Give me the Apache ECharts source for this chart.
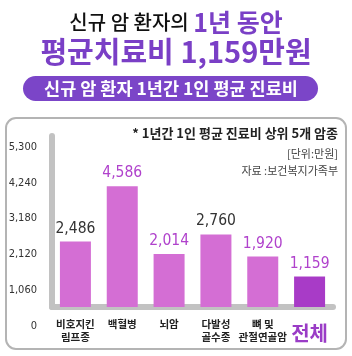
<!DOCTYPE html>
<html>
<head>
<meta charset="utf-8">
<script src="https://cdn.jsdelivr.net/npm/echarts@6/dist/echarts.min.js"></script>
<style>
  html, body { margin: 0; padding: 0; background: #fff; }
  #main { width: 352px; height: 356px; }
</style>
</head>
<body>
<div id="main"></div>
<script>
// 암종별 1년간 1인 평균 진료비 (단위: 만원)
var categories = ['비호지킨\n림프종', '백혈병', '뇌암', '다발성\n골수종', '뼈 및\n관절연골암', '전체'];
var costs = [2486, 4586, 2014, 2760, 1920, 1159];
// 왼쪽 눈금 라벨
var tickLabels = [0, 1060, 2120, 3180, 4240, 5300];

var purple = '#7a3fc6';
var labelPurple = '#b042cc';
var labelColors = ['#333', labelPurple, labelPurple, '#333', labelPurple, labelPurple];
var numFont = '"Liberation Sans Narrow", "DejaVu Sans Condensed", "Liberation Sans", Arial, sans-serif';
var krFont = '"Noto Sans CJK KR", "Noto Sans", sans-serif';

function fmt(v){
    return String(v).replace(/\B(?=(\d{3})+(?!\d))/g, ',');
}

var chart = echarts.init(document.getElementById('main'));

var option = {
    backgroundColor: '#fff',
    animation: false,
    title: [
        {
            text: '{a|신규 암 환자의 }{b|1년 동안}',
            left: 'center',
            top: 5,
            textStyle: {
                rich: {
                    a: { fontFamily: krFont, fontSize: 20, fontWeight: 500, color: '#111' },
                    b: { fontFamily: krFont, fontSize: 25, fontWeight: 'bold', color: purple }
                }
            }
        },
        {
            text: '평균치료비 1,159만원',
            left: 'center',
            top: 32,
            textStyle: { fontFamily: krFont, fontSize: 29, fontWeight: 'bold', color: purple }
        },
        {
            text: '* 1년간 1인 평균 진료비 상위 5개 암종',
            right: 14,
            top: 127,
            padding: 0,
            textStyle: { fontFamily: krFont, fontSize: 13, fontWeight: 'bold', color: '#222' }
        },
        {
            text: '[단위:만원]',
            right: 14,
            top: 148,
            padding: 0,
            textStyle: { fontFamily: krFont, fontSize: 11, fontWeight: 'normal', color: '#444' }
        },
        {
            text: '자료 :보건복지가족부',
            right: 14,
            top: 165,
            padding: 0,
            textStyle: { fontFamily: krFont, fontSize: 11, fontWeight: 'normal', color: '#444' }
        }
    ],
    graphic: [
        {
            type: 'rect',
            shape: { x: 23, y: 76, width: 295, height: 25, r: 12.5 },
            style: { fill: '#7b45c8' },
            z: 1
        },
        {
            type: 'text',
            x: 171, y: 88.5,
            style: {
                text: '신규 암 환자 1년간 1인 평균 진료비',
                fill: '#fff',
                font: 'bold 17.5px ' + krFont,
                align: 'center',
                verticalAlign: 'middle'
            },
            z: 2
        },
        {
            type: 'rect',
            shape: { x: 6, y: 118, width: 340, height: 231, r: 10 },
            style: { fill: 'none', stroke: '#b4b4b4', lineWidth: 2 },
            z: 0
        }
    ],
    grid: [
        // 눈금 라벨만 표시
        { left: 49, right: 19, top: 147, bottom: 30 },
        // 막대
        { left: 52, right: 19, top: 136, bottom: 49 }
    ],
    xAxis: [
        { gridIndex: 0, type: 'category', data: categories, show: false },
        {
            gridIndex: 1,
            type: 'category',
            data: categories,
            axisLine: { show: true, lineStyle: { color: '#c2c2c2', width: 6 } },
            axisTick: { show: false },
            axisLabel: {
                interval: 0,
                margin: 11,
                formatter: function(v){
                    if (v === '전체') return '{big|' + v + '}';
                    return v.split('\n').map(function(s){ return '{n|' + s + '}'; }).join('\n');
                },
                rich: {
                    n: { fontFamily: krFont, fontSize: 10.5, fontWeight: 'bold', color: '#222', lineHeight: 13 },
                    big: { fontFamily: krFont, fontSize: 20, fontWeight: 'bold', color: '#9a3cc6', lineHeight: 26, padding: [4, 0, 0, 0] }
                }
            }
        }
    ],
    yAxis: [
        {
            gridIndex: 0,
            type: 'value',
            min: tickLabels[0],
            max: tickLabels[tickLabels.length - 1],
            interval: tickLabels[1] - tickLabels[0],
            axisLine: { show: false },
            axisTick: { show: false },
            splitLine: { show: false },
            axisLabel: {
                margin: 12,
                fontFamily: numFont,
                fontSize: 11,
                color: '#333',
                formatter: function(v){ return fmt(v); }
            }
        },
        {
            gridIndex: 1,
            type: 'value',
            min: 0,
            max: 6500,
            axisLine: { show: true, lineStyle: { color: '#c2c2c2', width: 6 } },
            axisTick: { show: false },
            axisLabel: { show: false },
            splitLine: { show: false }
        }
    ],
    series: [
        {
            type: 'bar',
            xAxisIndex: 1,
            yAxisIndex: 1,
            barWidth: 31,
            data: costs.map(function(v, i){
                return {
                    value: v,
                    itemStyle: { color: i === costs.length - 1 ? '#a83bc7' : '#d46ed4' },
                    label: { color: labelColors[i] }
                };
            }),
            label: {
                show: true,
                position: 'top',
                distance: 5,
                fontFamily: numFont,
                fontSize: 15.5,
                formatter: function(p){ return fmt(p.value); }
            }
        }
    ]
};

chart.setOption(option);
</script>
</body>
</html>
